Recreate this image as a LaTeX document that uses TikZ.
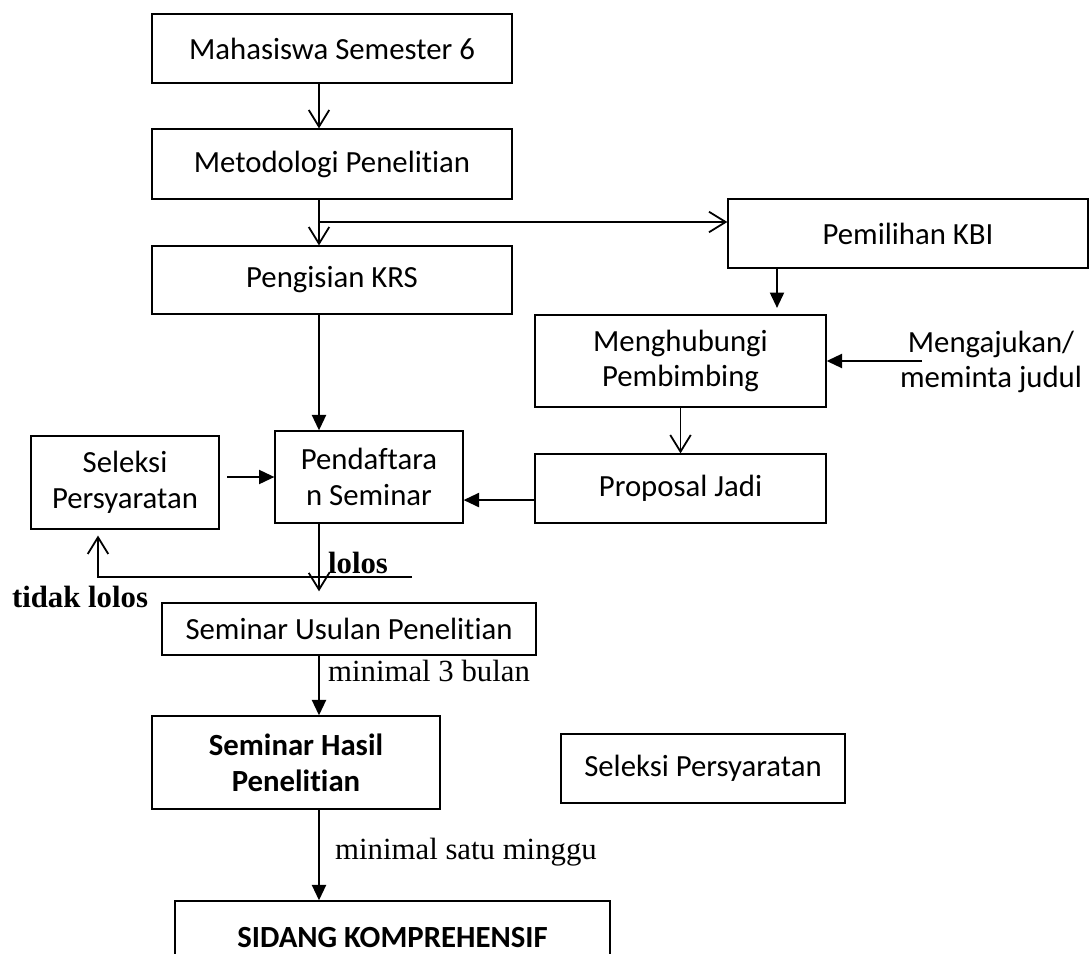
\documentclass[tikz,border=0pt]{standalone}
\usepackage{fontspec}
\setmainfont{Carlito}[Ligatures=NoCommon]
\newfontfamily\timesfont{Liberation Serif}
\usetikzlibrary{arrows.meta, positioning, calc}
\tikzset{
  flowbox/.style={rectangle, draw=black, line width=0.5pt, inner sep=0pt, align=center, font=\fontsize{12}{14}\selectfont},
  boldbox/.style={flowbox, font=\fontsize{12}{14}\selectfont\bfseries},
  openarrow/.style={-{Straight Barb[length=6.5pt, width=8pt]}, line width=0.7pt},
  filledarrow/.style={-{Triangle[length=6pt, width=5.5pt]}, line width=0.7pt},
  notetext/.style={inner sep=0pt, font=\timesfont\fontsize{12}{14}\selectfont},
  boldnote/.style={inner sep=0pt, font=\timesfont\fontsize{12}{14}\selectfont\bfseries},
  sidetext/.style={inner sep=0pt, align=center, font=\fontsize{12}{14}\selectfont}
}

\begin{document}
\begin{tikzpicture}[x=0.39pt, y=-0.39pt]
  \useasboundingbox (0,0) rectangle (1090,953);
  \clip (0,0) rectangle (1090,953);
  \coordinate (spine) at (319,0);

  % main column
  \node[flowbox, minimum width=140.4pt, minimum height=26.9pt] (mhs) at (332,48.5) {Mahasiswa Semester 6};
  \node[flowbox, minimum width=140.4pt, minimum height=27.3pt] (metod) at (332,164) {Metodologi Penelitian};
  \node[flowbox, minimum width=140.4pt, minimum height=26.5pt] (krs) at (332,280) {Pengisian KRS};
  \node[flowbox, minimum width=73.3pt, minimum height=35.9pt] (daftar) at (369,477) {Pendaftara\\n Seminar};
  \node[flowbox, minimum width=73.3pt, minimum height=36.3pt] (seleksi) at (125,482.5) {Seleksi\\Persyaratan};
  \node[flowbox, minimum width=145.9pt, minimum height=20.3pt] (usulan) at (349,629) {Seminar Usulan Penelitian};
  \node[boldbox, minimum width=112.3pt, minimum height=36.3pt] (hasil) at (296,762.5) {Seminar Hasil\\Penelitian};
  \node[boldbox, minimum width=169.7pt, minimum height=28.9pt] (sidang) at (392.5,938) {SIDANG KOMPREHENSIF};

  % right column
  \node[flowbox, minimum width=140.4pt, minimum height=26.9pt] (kbi) at (908,233.5) {Pemilihan KBI};
  \node[flowbox, minimum width=113.5pt, minimum height=35.9pt] (hub) at (680.5,361) {Menghubungi\\Pembimbing};
  \node[flowbox, minimum width=113.5pt, minimum height=26.9pt] (prop) at (680.5,488.5) {Proposal Jadi};
  \node[flowbox, minimum width=110.8pt, minimum height=26.9pt] (seleksikanan) at (703,768.5) {Seleksi Persyaratan};
  \node[sidetext] (ajukan) at (991,362) {Mengajukan/\\meminta judul};

  % labels
  \node[boldnote] (lolos) at (358,563) {lolos};
  \node[boldnote] (tidaklolos) at (80,596.5) {tidak lolos};
  \node[notetext] (tigabulan) at (429,671) {minimal 3 bulan};
  \node[notetext] (seminggu) at (466,852.5) {minimal satu minggu};

  \coordinate (branch) at (319,222);
  \coordinate (kbidrop) at (777,0);
  \coordinate (ajukanline) at (922,361);
  \coordinate (gagal) at (412,577);
  \coordinate (balik) at (98,0);

  \draw[openarrow] (mhs.south -| spine) -- (metod.north -| spine);
  \draw[openarrow] (metod.south -| spine) -- (krs.north -| spine);
  \draw[openarrow] (branch) -- (branch -| kbi.west);
  \draw[filledarrow, shorten >=2.5pt] (kbi.south -| kbidrop) -- (hub.north -| kbidrop);
  \draw[filledarrow] (ajukanline) -- (ajukanline -| hub.east);
  \draw[openarrow] (hub.south) -- (prop.north);
  \draw[filledarrow] ([yshift=-4.5pt]prop.west) -- ([yshift=-4.5pt]prop.west -| daftar.east);
  \draw[filledarrow] (krs.south -| spine) -- (daftar.north -| spine);
  \draw[filledarrow, shorten <=3pt] (seleksi.east |- daftar.west) -- (daftar.west);
  \draw[openarrow, shorten >=4.3pt] (daftar.south -| spine) -- (usulan.north -| spine);
  \draw[openarrow, shorten >=2.3pt] (gagal) -| (seleksi.south -| balik);
  \draw[filledarrow] (usulan.south -| spine) -- (hasil.north -| spine);
  \draw[filledarrow] (hasil.south -| spine) -- (sidang.north -| spine);
\end{tikzpicture}
\end{document}
